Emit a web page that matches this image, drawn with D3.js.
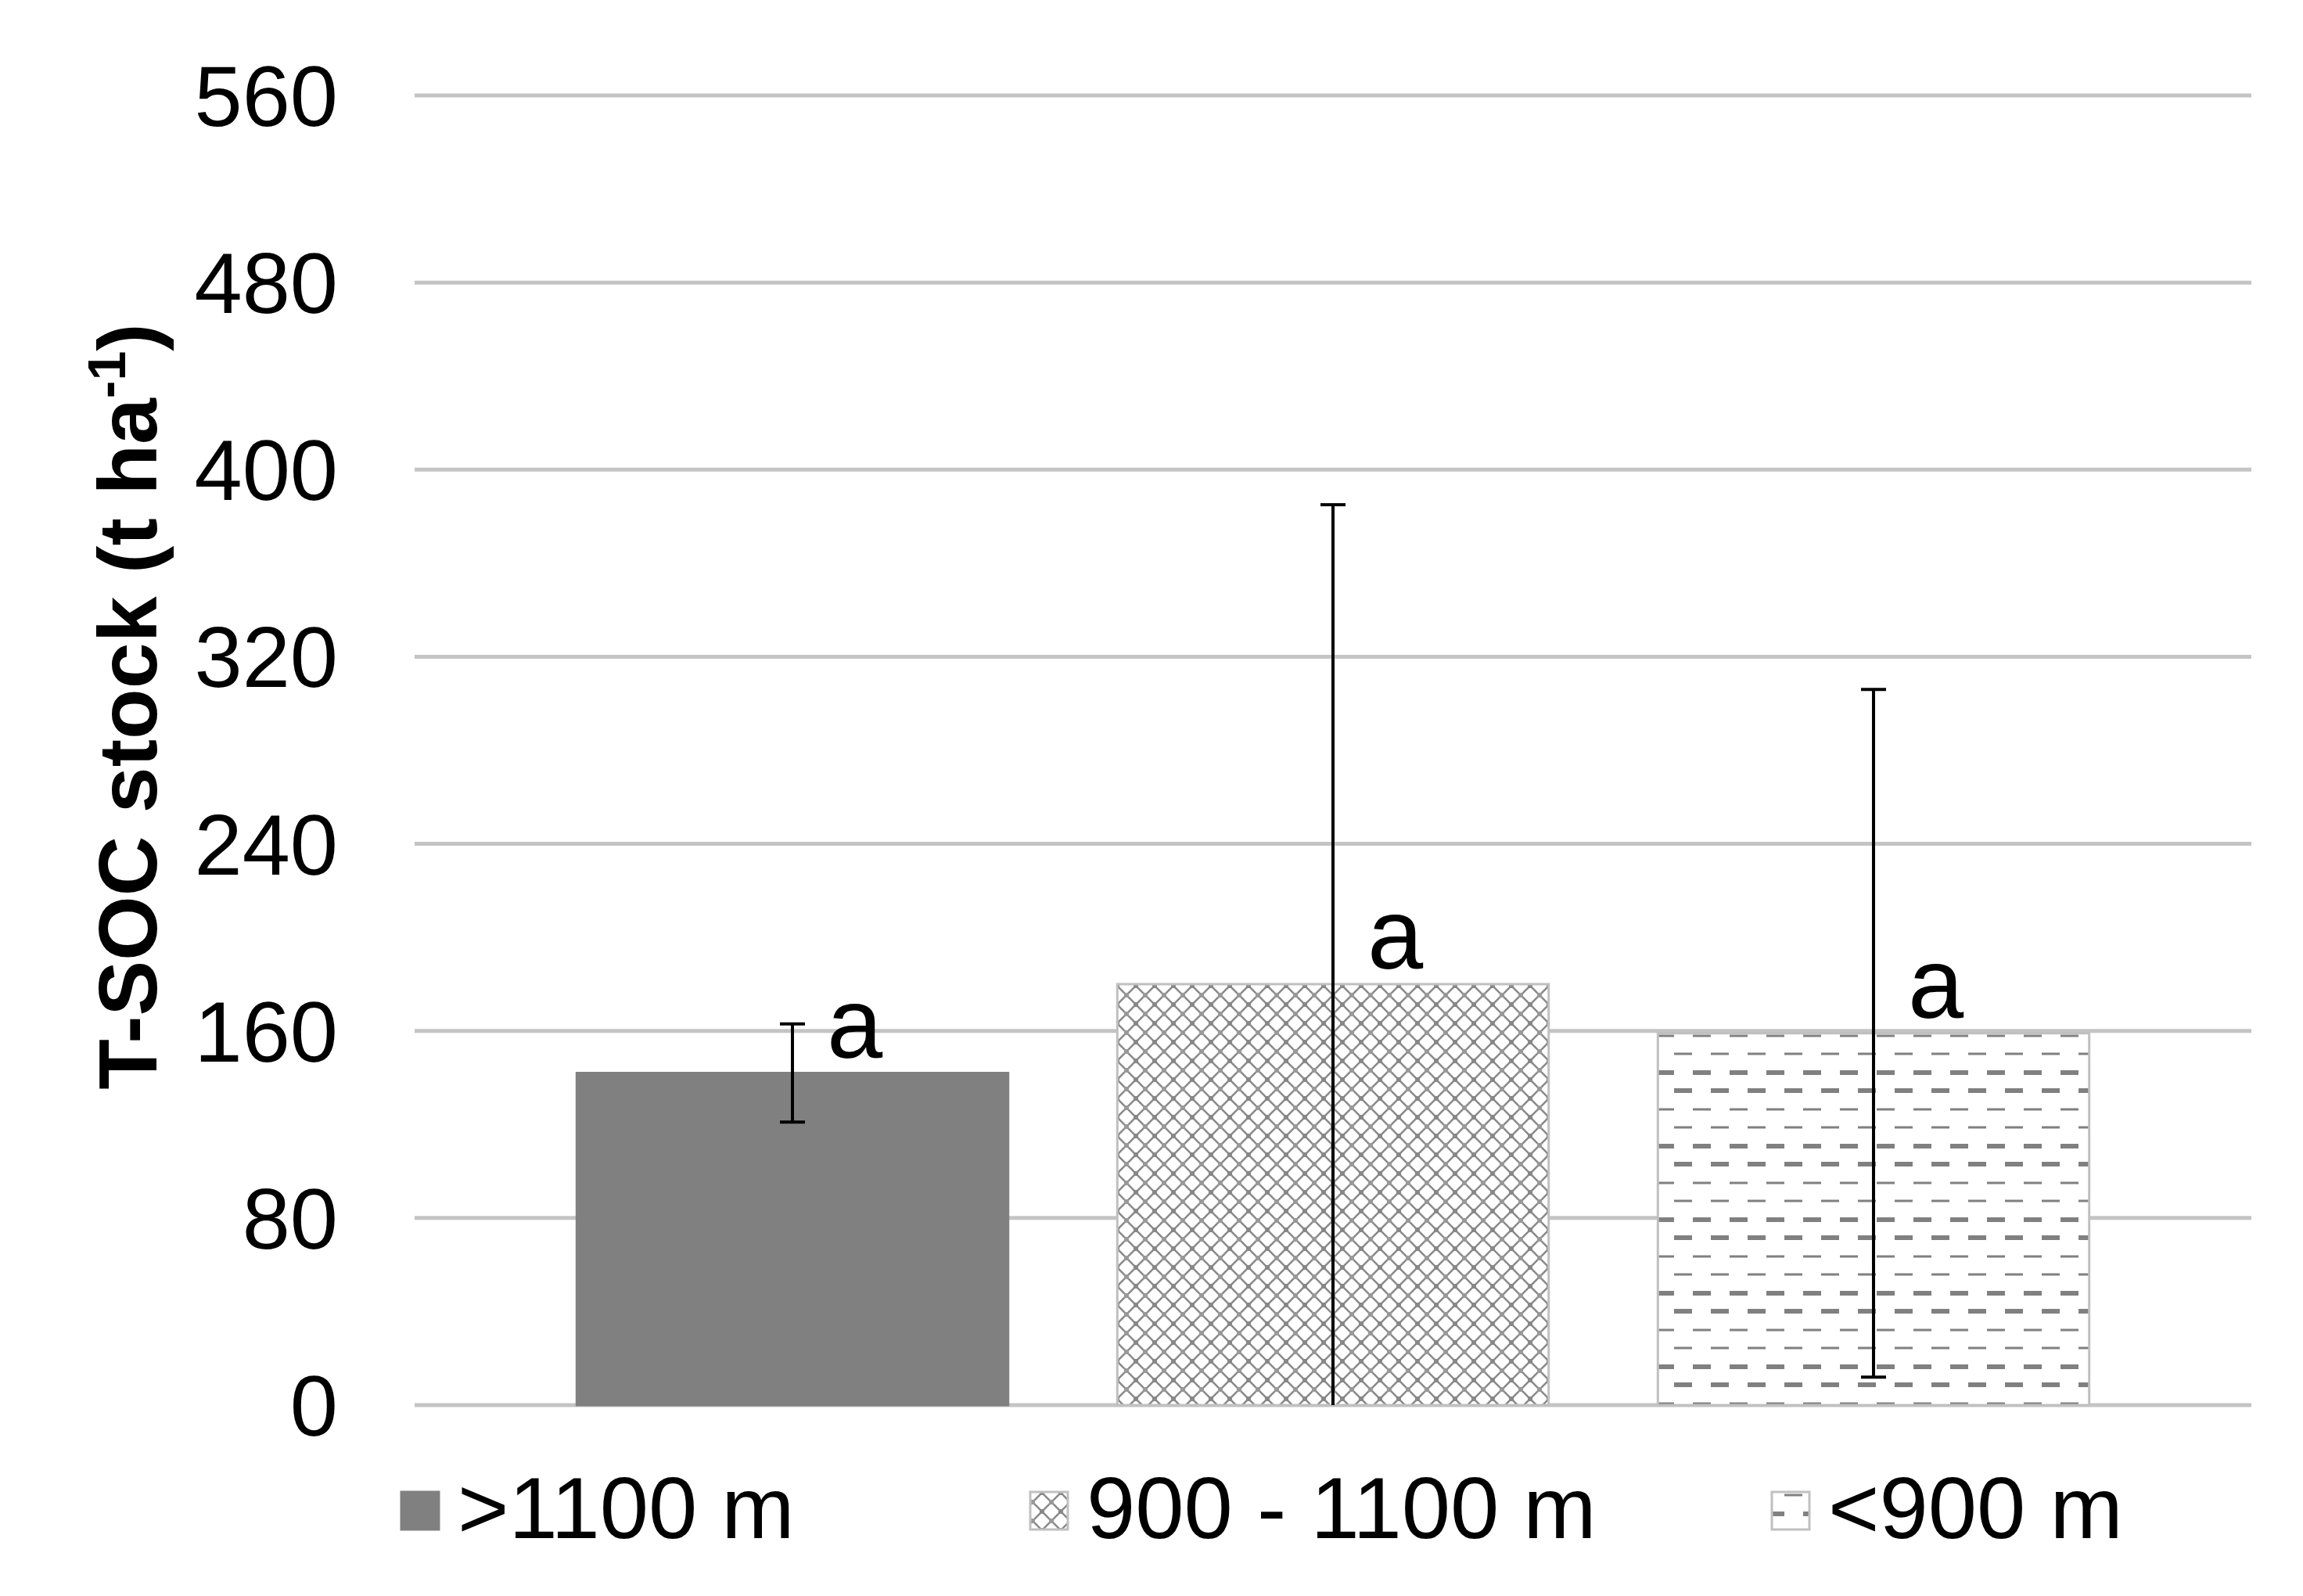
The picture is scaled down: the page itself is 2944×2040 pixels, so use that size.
<!DOCTYPE html>
<html><head><meta charset="utf-8">
<script src="https://cdn.jsdelivr.net/npm/d3@7"></script>
<style>body{margin:0;background:#fff}</style>
</head><body>
<script>
"use strict";
const categories = [">1100 m", "900 - 1100 m", "<900 m"];
const means = [142, 180, 159];
const errors = [21, 205, 147];
const letters = ["a", "a", "a"];
const yTicks = [0, 80, 160, 240, 320, 400, 480, 560];

const W = 2944, H = 2040;
const FONT = "Liberation Sans, Arial, sans-serif";
const svg = d3.select("body").append("svg").attr("width", W).attr("height", H);
const defs = svg.append("defs");

// crosshatch-ish pattern for middle bar
const p1 = defs.append("pattern").attr("id", "hatch").attr("patternUnits", "userSpaceOnUse")
    .attr("width", 24).attr("height", 24);
p1.append("rect").attr("width", 24).attr("height", 24).attr("fill", "#fff");
p1.append("path").attr("d", "M0,0L24,24M24,0L0,24M-6,6L6,-6M18,30L30,18M-6,18L6,30M18,-6L30,6")
    .attr("stroke", "#8a8a8a").attr("stroke-width", 2.6);
p1.append("rect").attr("x", 9).attr("y", 9).attr("width", 6).attr("height", 6).attr("fill", "#888");
[[-3, -3], [21, -3], [-3, 21], [21, 21]].forEach(([a, b]) =>
    p1.append("rect").attr("x", a).attr("y", b).attr("width", 6).attr("height", 6).attr("fill", "#999"));

// dashed pattern for right bar
const p2 = defs.append("pattern").attr("id", "dashes").attr("patternUnits", "userSpaceOnUse")
    .attr("width", 47).attr("height", 94);
p2.append("rect").attr("width", 47).attr("height", 94).attr("fill", "#fff");
[[8, 3, 0], [31, 3, 23], [55, 6, 0], [78, 6, 23]].forEach(([y, h, dx]) => {
    p2.append("rect").attr("x", dx + 2).attr("y", y - h / 2).attr("width", 23).attr("height", h).attr("fill", "#808080");
    if (dx) p2.append("rect").attr("x", dx - 47 + 2).attr("y", y - h / 2).attr("width", 23).attr("height", h).attr("fill", "#808080");
});

const fills = ["#808080", "url(#hatch)", "url(#dashes)"];
const strokes = ["#808080", "#c0c0c0", "#c0c0c0"];

const x = d3.scaleBand().domain(categories).range([530, 2878]).paddingInner(0.202).paddingOuter(0.30);
const y = d3.scaleLinear().domain([0, 560]).range([1796, 122]);

// grid
svg.append("g").selectAll("line").data(yTicks).join("line")
    .attr("x1", 530).attr("x2", 2878).attr("y1", d => y(d)).attr("y2", d => y(d))
    .attr("stroke", "#c4c4c4").attr("stroke-width", 5);

const yAxis = svg.append("g").attr("transform", "translate(432,0)")
    .call(d3.axisLeft(y).tickValues(yTicks).tickSize(0).tickPadding(0));
yAxis.select(".domain").remove();
yAxis.selectAll("text").attr("font-family", FONT).attr("font-size", 110).attr("fill", "#000").attr("dy", "0.35em");

svg.append("text").attr("transform", "translate(200,903) rotate(-90)")
    .attr("text-anchor", "middle").attr("font-family", FONT).attr("font-weight", "bold")
    .attr("font-size", 106)
    .call(t => {
        t.append("tspan").text("T-SOC stock (t ha");
        t.append("tspan").text("-1").attr("font-size", 68).attr("dy", -40);
        t.append("tspan").text(")").attr("dy", 40);
    });

// bars
svg.append("g").selectAll("rect").data(categories).join("rect")
    .attr("x", d => x(d)).attr("width", x.bandwidth())
    .attr("y", (d, i) => y(means[i])).attr("height", (d, i) => y(0) - y(means[i]))
    .attr("fill", (d, i) => fills[i]).attr("stroke", (d, i) => strokes[i]).attr("stroke-width", 3);

// error bars
const eb = svg.append("g").attr("stroke", "#000").attr("stroke-width", 4);
categories.forEach((c, i) => {
    const cx = x(c) + x.bandwidth() / 2;
    const lo = Math.max(0, means[i] - errors[i]), hi = means[i] + errors[i];
    eb.append("line").attr("x1", cx).attr("x2", cx).attr("y1", y(lo)).attr("y2", y(hi));
    eb.append("line").attr("x1", cx - 16).attr("x2", cx + 16).attr("y1", y(hi)).attr("y2", y(hi));
    if (lo > 0) eb.append("line").attr("x1", cx - 16).attr("x2", cx + 16).attr("y1", y(lo)).attr("y2", y(lo));
});

// letters
svg.append("g").selectAll("text").data(categories).join("text")
    .attr("x", d => x(d) + x.bandwidth() / 2 + 44)
    .attr("y", (d, i) => y(means[i]) - 20)
    .attr("font-family", FONT).attr("font-size", 128).text((d, i) => letters[i]);

// legend
const legX = [513, 1317, 2265];
const leg = svg.append("g");
categories.forEach((c, i) => {
    leg.append("rect").attr("x", legX[i]).attr("y", 1907).attr("width", 48).attr("height", 48)
        .attr("fill", fills[i]).attr("stroke", strokes[i]).attr("stroke-width", 3);
    leg.append("text").attr("x", legX[i] + 72).attr("y", 1966)
        .attr("font-family", FONT).attr("font-size", 112).text(c);
});
</script>
</body></html>
